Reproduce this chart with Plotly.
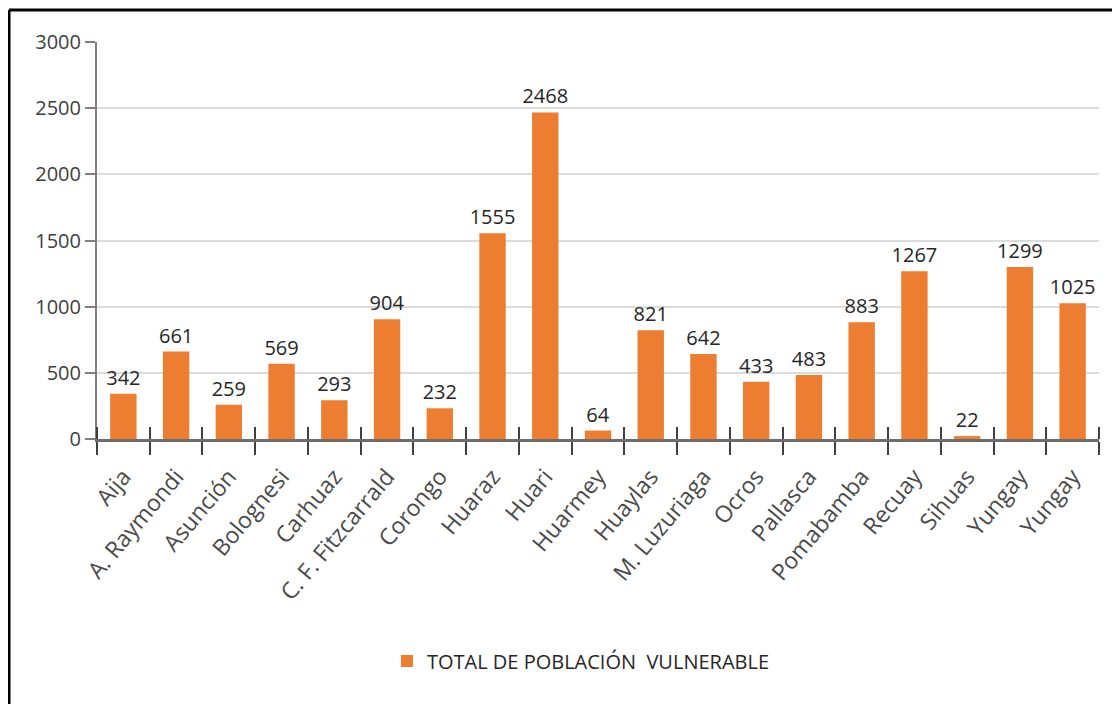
import plotly.graph_objects as go

provinces = ["Aija", "A. Raymondi", "Asunción", "Bolognesi", "Carhuaz", "C. F. Fitzcarrald",
             "Corongo", "Huaraz", "Huari", "Huarmey", "Huaylas", "M. Luzuriaga", "Ocros",
             "Pallasca", "Pomabamba", "Recuay", "Sihuas", "Yungay", "Yungay"]
values = [342, 661, 259, 569, 293, 904, 232, 1555, 2468, 64, 821, 642, 433, 483, 883, 1267, 22, 1299, 1025]
series_name = "TOTAL DE POBLACIÓN  VULNERABLE"
y_ticks = [0, 500, 1000, 1500, 2000, 2500, 3000]

positions = list(range(len(provinces)))
xrange_ = [-0.5, len(provinces) - 0.5]

FONT = "Open Sans"
ORANGE = "#ED7D31"

fig = go.Figure()
fig.add_trace(go.Bar(
    x=positions, y=values, name=series_name,
    marker=dict(color=ORANGE, line=dict(width=0)),
    text=[str(v) for v in values], textposition="outside",
    textfont=dict(family=FONT, size=20, color="#262626"),
    constraintext="none",
    cliponaxis=False, showlegend=True,
))
# helper (invisible) trace so the overlay axis carrying the upper tick halves is drawn
fig.add_trace(go.Scatter(
    x=positions, y=values, xaxis="x2", mode="none", showlegend=False, hoverinfo="skip",
))

fig.update_layout(
    width=1112, height=696,
    margin=dict(l=89, r=21, t=34, b=265),
    paper_bgcolor="white", plot_bgcolor="white",
    bargap=0.5,
    font=dict(family=FONT, color="#404040"),
    showlegend=True,
    legend=dict(orientation="h", x=0.483, xanchor="center", y=-0.559, yanchor="middle",
                font=dict(family=FONT, size=20, color="#262626")),
    xaxis=dict(
        range=xrange_,
        tickmode="array", tickvals=positions, ticktext=provinces,
        tickangle=-50, ticks="", showgrid=False, zeroline=False,
        ticklabelstandoff=12,
        tickfont=dict(family=FONT, size=23, color="#4a4a4a"),
        showline=True, linecolor="#6d6d6d", linewidth=3,
        minor=dict(tick0=-0.5, dtick=1, ticks="outside", ticklen=13, tickwidth=2,
                   tickcolor="#404040", showgrid=False),
    ),
    xaxis2=dict(
        range=xrange_, overlaying="x", anchor="y", side="bottom",
        showticklabels=False, showgrid=False, zeroline=False, showline=False,
        tickmode="array", tickvals=[], ticks="",
        minor=dict(tick0=-0.5, dtick=1, ticks="inside", ticklen=12, tickwidth=2,
                   tickcolor="#404040", showgrid=False),
    ),
    yaxis=dict(
        range=[0, 3000], tickmode="array", tickvals=y_ticks,
        showgrid=True, gridcolor="#DCDCDC", gridwidth=2,
        zeroline=False,
        showline=True, linecolor="#808080", linewidth=2,
        ticks="outside", ticklen=10, tickwidth=2, tickcolor="#808080",
        tickfont=dict(family=FONT, size=20, color="#404040"),
    ),
    shapes=[
        dict(type="line", xref="paper", yref="paper", x0=-0.0878, x1=1.05, y0=1.0806, y1=1.0806,
             line=dict(color="black", width=3)),
        dict(type="line", xref="paper", yref="paper", x0=-0.0878, x1=-0.0878, y0=1.0806, y1=-0.7,
             line=dict(color="black", width=3)),
    ],
)

fig.write_html("out.html")
